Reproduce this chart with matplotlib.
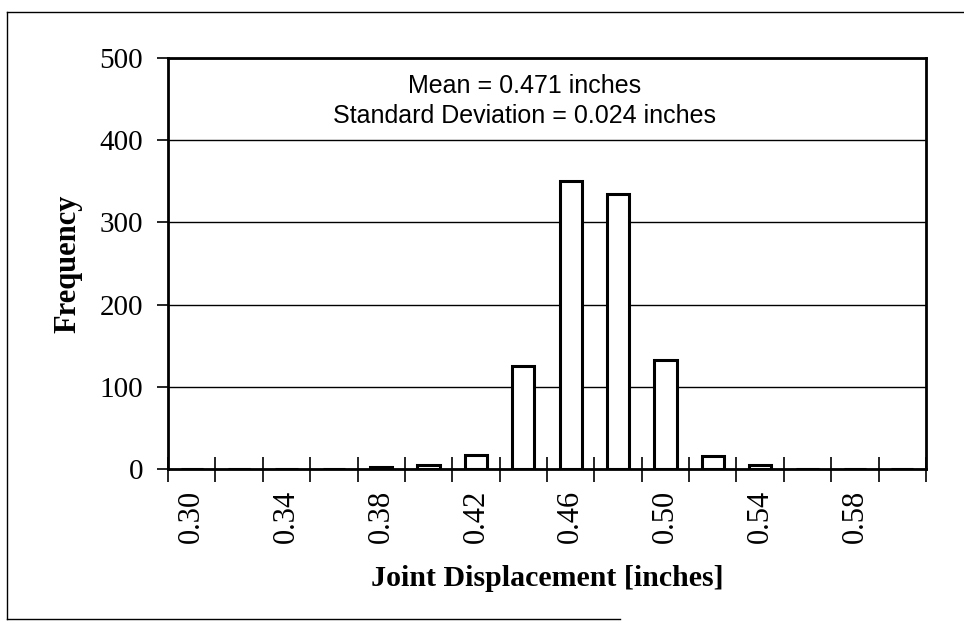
import matplotlib
matplotlib.use("Agg")
import matplotlib.pyplot as plt
from matplotlib.lines import Line2D

# Data
bins = [0.30, 0.32, 0.34, 0.36, 0.38, 0.40, 0.42, 0.44, 0.46, 0.48, 0.50, 0.52, 0.54, 0.56, 0.58, 0.60]
freq = [0, 0, 0, 0, 3, 5, 17, 125, 350, 334, 133, 16, 5, 0, 0, 0]
tick_labels = ["0.30", "0.34", "0.38", "0.42", "0.46", "0.50", "0.54", "0.58"]
y_ticks = [0, 100, 200, 300, 400, 500]

fig = plt.figure(figsize=(9.64, 6.33), dpi=100)
ax = fig.add_axes([168/964, 1-469/633, (926-168)/964, (469-58)/633])

xs = list(range(len(bins)))
ax.bar(xs, freq, width=0.47, facecolor="white", edgecolor="black", linewidth=2.2, zorder=3)

ax.set_xlim(-0.5, len(bins) - 0.5)
ax.set_ylim(0, 500)
ax.set_yticks(y_ticks)
ax.set_yticklabels([str(v) for v in y_ticks], fontfamily="Liberation Serif", fontsize=21)
ax.yaxis.grid(True, color="black", linewidth=1.0, zorder=0)
ax.tick_params(axis="y", direction="out", length=8, width=1.2, pad=10)

# category boundaries as tick marks, labels on every second category
bounds = [i - 0.5 for i in range(len(bins) + 1)]
ax.set_xticks(bounds)
ax.set_xticklabels([""] * len(bounds))
ax.tick_params(axis="x", which="major", direction="inout", length=18, width=1.2)
label_pos = [i for i in xs if i % 2 == 0]
ax.set_xticks(label_pos, minor=True)
ax.set_xticklabels(tick_labels, minor=True, rotation=90, fontfamily="Liberation Serif", fontsize=22)
ax.tick_params(axis="x", which="minor", length=0, pad=15)

for s in ["left", "bottom", "top", "right"]:
    ax.spines[s].set_linewidth(2.0)
    ax.spines[s].set_color("black")

ax.set_ylabel("Frequency", fontfamily="Liberation Serif", fontweight="bold", fontsize=22, labelpad=12)
ax.set_xlabel("Joint Displacement [inches]", fontfamily="Liberation Serif", fontweight="bold", fontsize=21.5, labelpad=16)

ax.text(0.47, 0.896, "Mean = 0.471 inches\nStandard Deviation = 0.024 inches",
        transform=ax.transAxes, ha="center", va="center", fontfamily="Liberation Sans",
        fontsize=18, linespacing=1.3)

# outer chart border
fig.add_artist(Line2D([7/964, 7/964], [1-12/633, 1-619/633], transform=fig.transFigure, color="black", linewidth=1.0))
fig.add_artist(Line2D([7/964, 1.0], [1-12/633, 1-12/633], transform=fig.transFigure, color="black", linewidth=1.0))
fig.add_artist(Line2D([7/964, 620/964], [1-619/633, 1-619/633], transform=fig.transFigure, color="black", linewidth=1.0))

fig.savefig("out.png", dpi=100, facecolor="white")
